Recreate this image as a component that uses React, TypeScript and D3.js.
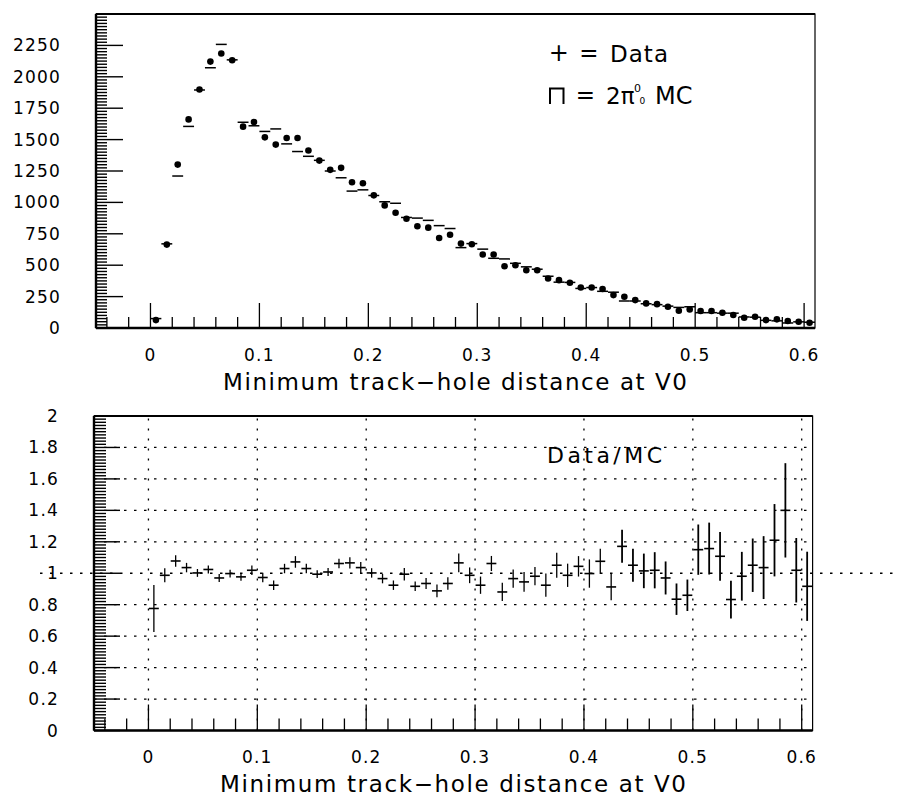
import React from 'react';
import * as d3 from 'd3';

// top panel: counts per 0.01 bin, starting at 0.0
const dataCounts = [
  63, 664, 1301, 1661, 1899, 2121, 2185, 2132, 1603, 1640,
  1518, 1460, 1513, 1513, 1413, 1333, 1259, 1275, 1161, 1153,
  1056, 976, 918, 870, 810, 799, 717, 743, 672, 667,
  585, 585, 492, 500, 460, 460, 394, 381, 360, 323,
  323, 310, 262, 249, 222, 196, 190, 169, 137, 148,
  135, 135, 122, 103, 82, 90, 63, 69, 56, 50,
  42,
];

const mcCounts = [
  75, 670, 1210, 1605, 1895, 2072, 2258, 2135, 1638, 1610,
  1565, 1585, 1466, 1405, 1367, 1335, 1250, 1196, 1090, 1100,
  1055, 1005, 993, 880, 875, 857, 815, 792, 640, 672,
  628, 555, 550, 515, 487, 468, 412, 365, 363, 315,
  322, 292, 285, 215, 215, 193, 186, 174, 164, 169,
  122, 122, 118, 118, 88, 86, 61, 57, 40, 49,
  46,
];

// bottom panel: Data/MC
const ratio = [
  0.776, 0.987, 1.078, 1.036, 1.002, 1.024, 0.970, 0.998, 0.977, 1.019,
  0.973, 0.924, 1.030, 1.072, 1.030, 0.994, 1.008, 1.062, 1.066, 1.036,
  1.002, 0.966, 0.924, 0.994, 0.917, 0.935, 0.888, 0.935, 1.066, 0.987,
  0.924, 1.062, 0.881, 0.966, 0.945, 0.981, 0.924, 1.051, 0.987, 1.044,
  0.998, 1.076, 0.913, 1.171, 1.051, 1.015, 1.019, 0.970, 0.835, 0.860,
  1.150, 1.157, 1.108, 0.833, 0.981, 1.051, 1.036, 1.210, 1.400, 1.019,
  0.917,
];

const ratioErr = [
  0.15, 0.045, 0.037, 0.03, 0.025, 0.025, 0.025, 0.025, 0.025, 0.03,
  0.03, 0.03, 0.03, 0.037, 0.03, 0.025, 0.025, 0.03, 0.035, 0.035,
  0.03, 0.03, 0.03, 0.04, 0.03, 0.035, 0.04, 0.04, 0.06, 0.05,
  0.055, 0.048, 0.058, 0.058, 0.063, 0.058, 0.074, 0.08, 0.074, 0.065,
  0.09, 0.08, 0.085, 0.105, 0.105, 0.11, 0.115, 0.105, 0.1, 0.1,
  0.16, 0.165, 0.155, 0.12, 0.155, 0.17, 0.2, 0.23, 0.3, 0.205,
  0.22,
];

const BIN = 0.01;
const xTicks = [0, 0.1, 0.2, 0.3, 0.4, 0.5, 0.6];
const xTickLabels = ['0', '0.1', '0.2', '0.3', '0.4', '0.5', '0.6'];
const topYTicks = [0, 250, 500, 750, 1000, 1250, 1500, 1750, 2000, 2250];
const botYTicks = [0, 0.2, 0.4, 0.6, 0.8, 1, 1.2, 1.4, 1.6, 1.8, 2];
const botYLabels = ['0', '0.2', '0.4', '0.6', '0.8', '1', '1.2', '1.4', '1.6', '1.8', '2'];
const xTitle = 'Minimum track\u2212hole distance at V0';

const FONT = '"DejaVu Sans", Verdana, sans-serif';
const lbl = { fontFamily: FONT, fontSize: 17, letterSpacing: 1.2 } as const;
const dots = '2.5 7.5';

export default function App() {
  const xTop = d3.scaleLinear().domain([-0.05, 0.61]).range([96, 815]);
  const yTop = d3.scaleLinear().domain([0, 2500]).range([328, 14]);
  const xBot = d3.scaleLinear().domain([-0.05, 0.61]).range([94, 812.6]);
  const yBot = d3.scaleLinear().domain([0, 2]).range([730.5, 416]);

  const xMinor = d3.range(-2, 31).map(i => ({ v: i * 0.02, major: i % 5 === 0 }));
  const topLeft = d3.range(0, 101).map(i => ({ v: i * 25, major: i % 10 === 0 }));
  const botLeft = d3.range(0, 101).map(i => ({ v: i * 0.02, major: i % 10 === 0 }));

  const lo = (i: number) => i * BIN;

  return (
    <svg width={897} height={798} style={{ position: 'absolute', left: 0, top: 0, background: '#fff' }}>
      {/* ---------- top panel ---------- */}
      <g>
        {/* left ticks */}
        {topLeft.map((t, i) => (
          <line key={'tl' + i} x1={xTop(-0.05)} x2={xTop(-0.05) + (t.major ? 27 : 11)}
            y1={yTop(t.v)} y2={yTop(t.v)} stroke="#000" strokeWidth={1.4} />
        ))}
        {/* bottom ticks */}
        {xMinor.map((t, i) => (
          <line key={'tb' + i} x1={xTop(t.v)} x2={xTop(t.v)} y1={yTop(0)} y2={yTop(0) - (t.major ? 25 : 11)}
            stroke="#000" strokeWidth={1.3} />
        ))}
        {/* MC histogram */}
        {mcCounts.map((v, i) => (
          <line key={'mc' + i} x1={xTop(lo(i))} x2={xTop(lo(i) + BIN)} y1={yTop(v)} y2={yTop(v)}
            stroke="#000" strokeWidth={1.5} />
        ))}
        {/* data points */}
        {dataCounts.map((v, i) => (
          <circle key={'d' + i} cx={xTop(lo(i) + BIN / 2)} cy={yTop(v)} r={3.3} fill="#000" />
        ))}
        {/* frame */}
        <rect x={xTop(-0.05)} y={yTop(2500)} width={xTop(0.61) - xTop(-0.05)} height={yTop(0) - yTop(2500)}
          fill="none" stroke="#000" strokeWidth={1.2} />
        <line x1={xTop(-0.05)} x2={xTop(0.61)} y1={yTop(2500)} y2={yTop(2500)} stroke="#000" strokeWidth={2.2} />
        <line x1={xTop(-0.05)} x2={xTop(0.61)} y1={yTop(0)} y2={yTop(0)} stroke="#000" strokeWidth={2.4} />
        <line x1={xTop(-0.05)} x2={xTop(-0.05)} y1={yTop(0)} y2={yTop(2500)} stroke="#000" strokeWidth={2.4} />
        {/* labels */}
        {topYTicks.map(t => (
          <text key={'ty' + t} x={61} y={yTop(t) + 6} textAnchor="end" style={lbl}>{t}</text>
        ))}
        {xTicks.map((t, i) => (
          <text key={'tx' + t} x={xTop(t)} y={361} textAnchor="middle" style={lbl}>{xTickLabels[i]}</text>
        ))}
        <text x={223} y={390} textLength={464} lengthAdjust="spacing"
          style={{ fontFamily: FONT, fontSize: 23 }}>{xTitle}</text>
        {/* legend */}
        <text x={558.7} y={61} textAnchor="middle" style={{ fontFamily: FONT, fontSize: 24 }}>+</text>
        <text x={589} y={61} textAnchor="middle" style={{ fontFamily: FONT, fontSize: 23 }}>=</text>
        <text x={610} y={62} textLength={58} lengthAdjust="spacing" style={{ fontFamily: FONT, fontSize: 23 }}>Data</text>
        <path d="M550,104 V88.5 H563.5 V104" fill="none" stroke="#000" strokeWidth={2} />
        <text x={585.5} y={103} textAnchor="middle" style={{ fontFamily: FONT, fontSize: 23 }}>=</text>
        <text x={606} y={104} style={{ fontFamily: FONT, fontSize: 23 }}>2π</text>
        <text x={634} y={92} style={{ fontFamily: FONT, fontSize: 11 }}>0</text>
        <text x={639.5} y={104} style={{ fontFamily: FONT, fontSize: 9 }}>0</text>
        <text x={655} y={104} style={{ fontFamily: FONT, fontSize: 24 }}>MC</text>
      </g>

      {/* ---------- bottom panel ---------- */}
      <g>
        {/* grid */}
        {botYTicks.filter(t => t > 0 && t < 2 && t !== 1).map(t => (
          <line key={'gh' + t} x1={xBot(-0.05)} x2={xBot(0.61)} y1={yBot(t)} y2={yBot(t)}
            stroke="#000" strokeWidth={1.3} strokeDasharray={dots} />
        ))}
        <line x1={40} x2={897} y1={yBot(1)} y2={yBot(1)} stroke="#000" strokeWidth={1.3} strokeDasharray={dots} />
        {xTicks.map(t => (
          <line key={'gv' + t} x1={xBot(t)} x2={xBot(t)} y1={yBot(0)} y2={yBot(2)}
            stroke="#000" strokeWidth={1.3} strokeDasharray="2 8" />
        ))}
        {/* left ticks */}
        {botLeft.map((t, i) => (
          <line key={'bl' + i} x1={xBot(-0.05)} x2={xBot(-0.05) + (t.major ? 26 : 12)}
            y1={yBot(t.v)} y2={yBot(t.v)} stroke="#000" strokeWidth={1.4} />
        ))}
        {/* bottom ticks */}
        {xMinor.map((t, i) => (
          <line key={'bb' + i} x1={xBot(t.v)} x2={xBot(t.v)} y1={yBot(0)} y2={yBot(0) - (t.major ? 26 : 12)}
            stroke="#000" strokeWidth={1.3} />
        ))}
        {/* ratio crosses */}
        {ratio.map((r, i) => {
          const cx = xBot(lo(i) + BIN / 2);
          return (
            <g key={'r' + i}>
              <line x1={xBot(lo(i)) + 0.5} x2={xBot(lo(i) + BIN) - 0.5} y1={yBot(r)} y2={yBot(r)}
                stroke="#000" strokeWidth={1.6} />
              <line x1={cx} x2={cx} y1={yBot(r - ratioErr[i])} y2={yBot(r + ratioErr[i])}
                stroke="#000" strokeWidth={i > 42 ? 1.8 : 1.3} />
            </g>
          );
        })}
        {/* frame */}
        <rect x={xBot(-0.05)} y={yBot(2)} width={xBot(0.61) - xBot(-0.05)} height={yBot(0) - yBot(2)}
          fill="none" stroke="#000" strokeWidth={1.2} />
        <line x1={xBot(-0.05)} x2={xBot(0.61)} y1={yBot(2)} y2={yBot(2)} stroke="#000" strokeWidth={2} />
        <line x1={xBot(-0.05)} x2={xBot(0.61)} y1={yBot(0)} y2={yBot(0)} stroke="#000" strokeWidth={2.4} />
        <line x1={xBot(-0.05)} x2={xBot(-0.05)} y1={yBot(0)} y2={yBot(2)} stroke="#000" strokeWidth={2.4} />
        {/* labels */}
        {botYTicks.map((t, i) => (
          <text key={'by' + t} x={59} y={yBot(t) + 6} textAnchor="end" style={lbl}>{botYLabels[i]}</text>
        ))}
        {xTicks.map((t, i) => (
          <text key={'bx' + t} x={xBot(t)} y={763} textAnchor="middle" style={lbl}>{xTickLabels[i]}</text>
        ))}
        <text x={220} y={792} textLength={466} lengthAdjust="spacing"
          style={{ fontFamily: FONT, fontSize: 23 }}>{xTitle}</text>
        <text x={547} y={463} textLength={115} lengthAdjust="spacing"
          style={{ fontFamily: FONT, fontSize: 22 }}>Data/MC</text>
      </g>
    </svg>
  );
}
